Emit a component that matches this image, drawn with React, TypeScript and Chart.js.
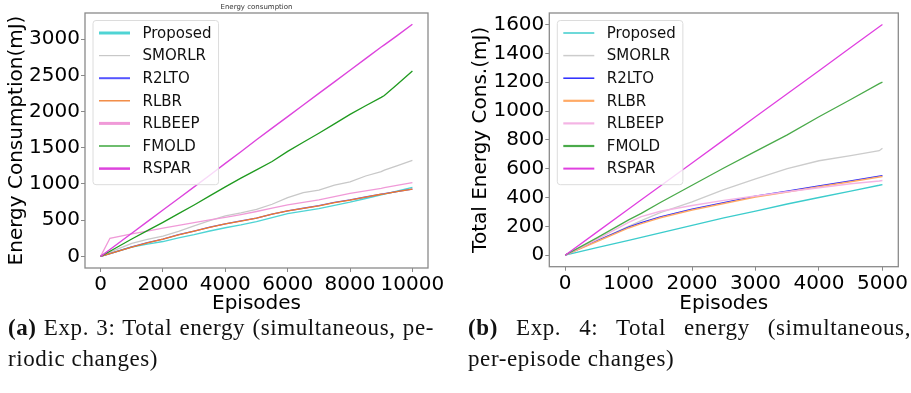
import React, { useEffect, useRef } from "react";
import { Chart, registerables } from "chart.js";

Chart.register(...registerables);

// ---- Series names shared by both panels ----
const seriesNames = ["Proposed", "SMORLR", "R2LTO", "RLBR", "RLBEEP", "FMOLD", "RSPAR"];

// ---- Panel (a): Exp. 3, periodic changes ----
const episodesA = [0, 300, 1000, 1500, 2000, 2500, 3000, 3500, 4000, 4500, 5000, 5500, 6000, 6500, 7000, 7500, 8000, 8500, 9000, 9100, 9500, 10000];
const proposedA = [0, 40, 130, 170, 205, 255, 300, 350, 395, 435, 480, 535, 590, 625, 660, 705, 750, 800, 850, 860, 900, 953];
const smorlrA = [0, 60, 180, 235, 280, 345, 420, 495, 560, 600, 650, 720, 810, 880, 915, 985, 1030, 1110, 1170, 1190, 1250, 1325];
const r2ltoA = [0, 40, 130, 190, 240, 300, 350, 405, 450, 490, 530, 585, 630, 665, 700, 745, 780, 820, 860, 866, 895, 930];
const rlbrA = [0, 38, 128, 188, 238, 298, 348, 402, 448, 488, 528, 583, 628, 663, 698, 742, 778, 818, 858, 864, 893, 928];
const rlbeepA = [0, 250, 310, 350, 390, 428, 465, 505, 540, 578, 620, 665, 710, 745, 780, 825, 870, 905, 940, 948, 980, 1020];
const fmoldA = [0, 72, 240, 355, 470, 590, 710, 835, 960, 1080, 1195, 1310, 1450, 1575, 1700, 1830, 1960, 2080, 2195, 2220, 2370, 2560];
const rsparA = [0, 96, 320, 480, 640, 800, 960, 1120, 1285, 1445, 1610, 1770, 1930, 2090, 2250, 2410, 2570, 2730, 2890, 2920, 3045, 3205];
const xTicksA = [0, 2000, 4000, 6000, 8000, 10000];
const yTicksA = [0, 500, 1000, 1500, 2000, 2500, 3000];

// ---- Panel (b): Exp. 4, per-episode changes ----
const episodesB = [0, 500, 1000, 1200, 1500, 2000, 2500, 3000, 3500, 4000, 4500, 4950, 5000];
const proposedB = [0, 52, 103, 124, 155, 207, 258, 305, 355, 400, 445, 485, 490];
const smorlrB = [0, 100, 200, 240, 295, 370, 455, 530, 600, 655, 690, 725, 742];
const r2ltoB = [0, 100, 195, 225, 265, 320, 365, 410, 445, 480, 515, 548, 552];
const rlbrB = [0, 95, 189, 219, 259, 314, 359, 404, 439, 474, 509, 542, 546];
const rlbeepB = [0, 110, 228, 268, 305, 345, 380, 410, 440, 468, 495, 515, 518];
const fmoldB = [0, 120, 245, 290, 365, 485, 605, 720, 835, 960, 1080, 1190, 1200];
const rsparB = [0, 160, 320, 385, 480, 640, 800, 960, 1120, 1280, 1440, 1585, 1600];
const xTicksB = [0, 1000, 2000, 3000, 4000, 5000];
const yTicksB = [0, 200, 400, 600, 800, 1000, 1200, 1400, 1600];

const FONT = '"DejaVu Sans", sans-serif';

type PanelSpec = {
  x: number[];
  series: number[][];
  colors: string[];
  widths: number[];
  legendWidths: number[];
  xMin: number;
  xMax: number;
  yMin: number;
  yMax: number;
  xTicks: number[];
  yTicks: number[];
  yTitle: string;
  yTitlePad: number;
  topTitle?: string;
  padTop: number;
  padRight: number;
  yAxisW: number;
  xAxisH: number;
};

// Frame around the plot area plus an in-plot legend box
const framePlugin = {
  id: "frameAndLegend",
  afterDatasetsDraw(chart: any, _args: any, opts: any) {
    const ctx = chart.ctx as CanvasRenderingContext2D;
    const ca = chart.chartArea;
    ctx.save();
    ctx.strokeStyle = "#8a8a8a";
    ctx.lineWidth = 1.3;
    ctx.strokeRect(ca.left, ca.top, ca.right - ca.left, ca.bottom - ca.top);

    // legend
    const ds = chart.data.datasets;
    const rowH = 22.6;
    const bx = ca.left + 8;
    const by = ca.top + 7.5;
    ctx.font = `15px ${FONT}`;
    let maxW = 0;
    ds.forEach((d: any) => (maxW = Math.max(maxW, ctx.measureText(d.label).width)));
    const bw = 49.5 + maxW + 7;
    const bh = ds.length * rowH + 6;
    ctx.beginPath();
    const r = 3;
    ctx.moveTo(bx + r, by);
    ctx.arcTo(bx + bw, by, bx + bw, by + bh, r);
    ctx.arcTo(bx + bw, by + bh, bx, by + bh, r);
    ctx.arcTo(bx, by + bh, bx, by, r);
    ctx.arcTo(bx, by, bx + bw, by, r);
    ctx.closePath();
    ctx.fillStyle = "rgba(255,255,255,0.8)";
    ctx.fill();
    ctx.strokeStyle = "#dcdcdc";
    ctx.lineWidth = 1;
    ctx.stroke();
    ds.forEach((d: any, i: number) => {
      const cy = by + 12.5 + i * rowH;
      ctx.beginPath();
      ctx.strokeStyle = d.borderColor;
      ctx.lineWidth = opts.legendWidths[i];
      ctx.moveTo(bx + 6, cy);
      ctx.lineTo(bx + 37, cy);
      ctx.stroke();
      ctx.fillStyle = "#111";
      ctx.textBaseline = "middle";
      ctx.textAlign = "left";
      ctx.fillText(d.label, bx + 49.5, cy + 1);
    });

    if (opts.topTitle) {
      ctx.font = `7px ${FONT}`;
      ctx.fillStyle = "#333";
      ctx.textAlign = "center";
      ctx.textBaseline = "middle";
      ctx.fillText(opts.topTitle, (ca.left + ca.right) / 2, 7);
    }
    ctx.restore();
  },
};

function buildConfig(p: PanelSpec): any {
  const tickFont = { family: FONT, size: 20 };
  const gridOpts = {
    drawOnChartArea: false,
    drawTicks: true,
    tickLength: 4,
    color: "#8a8a8a",
    lineWidth: 1,
  };
  return {
    type: "line",
    data: {
      datasets: seriesNames.map((name, i) => ({
        label: name,
        data: p.x.map((x, j) => ({ x, y: p.series[i][j] })),
        borderColor: p.colors[i],
        backgroundColor: p.colors[i],
        borderWidth: p.widths[i],
        pointRadius: 0,
        tension: 0,
        fill: false,
        order: -i,
      })),
    },
    options: {
      animation: false,
      responsive: false,
      maintainAspectRatio: false,
      layout: { padding: { top: p.padTop, right: p.padRight, left: 0, bottom: 0 } },
      plugins: {
        legend: { display: false },
        title: { display: false },
        tooltip: { enabled: false },
        frameAndLegend: { legendWidths: p.legendWidths, topTitle: p.topTitle },
      },
      scales: {
        x: {
          type: "linear",
          min: p.xMin,
          max: p.xMax,
          afterBuildTicks: (s: any) => {
            s.ticks = p.xTicks.map((v) => ({ value: v }));
          },
          afterFit: (s: any) => {
            s.height = p.xAxisH;
          },
          grid: gridOpts,
          border: { display: false },
          ticks: {
            font: tickFont,
            color: "#000",
            padding: 1,
            maxRotation: 0,
            autoSkip: false,
            callback: (v: any) => String(v),
          },
          title: {
            display: true,
            text: "Episodes",
            font: { family: FONT, size: 20 },
            color: "#000",
            padding: { top: 0, bottom: 4 },
          },
        },
        y: {
          type: "linear",
          min: p.yMin,
          max: p.yMax,
          afterBuildTicks: (s: any) => {
            s.ticks = p.yTicks.map((v) => ({ value: v }));
          },
          afterFit: (s: any) => {
            s.width = p.yAxisW;
          },
          grid: gridOpts,
          border: { display: false },
          ticks: {
            font: tickFont,
            color: "#000",
            padding: 1,
            autoSkip: false,
            callback: (v: any) => String(v),
          },
          title: {
            display: true,
            text: p.yTitle,
            font: { family: FONT, size: 20 },
            color: "#000",
            padding: { top: p.yTitlePad, bottom: 0 },
          },
        },
      },
    },
    plugins: [framePlugin],
  };
}

const panelA: PanelSpec = {
  x: episodesA,
  series: [proposedA, smorlrA, r2ltoA, rlbrA, rlbeepA, fmoldA, rsparA],
  colors: ["#4fd4d4", "#c8c8c8", "#5555ff", "#f07a2a", "#f09ad8", "#1f9a1f", "#dd44dd"],
  widths: [1.4, 1.3, 1.3, 1.3, 1.3, 1.3, 1.4],
  legendWidths: [3, 1.2, 2, 1.3, 3, 1.3, 2.5],
  xMin: -500,
  xMax: 10500,
  yMin: -160,
  yMax: 3360,
  xTicks: xTicksA,
  yTicks: yTicksA,
  yTitle: "Energy Consumption(mJ)",
  yTitlePad: 5,
  topTitle: "Energy consumption",
  padTop: 13,
  padRight: 27,
  yAxisW: 85,
  xAxisH: 52,
};

const panelB: PanelSpec = {
  x: episodesB,
  series: [proposedB, smorlrB, r2ltoB, rlbrB, rlbeepB, fmoldB, rsparB],
  colors: ["#3ccccc", "#cccccc", "#2a2aff", "#ffaa66", "#f4b4e4", "#4aaa4a", "#e040e0"],
  widths: [1.3, 1.3, 1.3, 1.5, 1.4, 1.3, 1.3],
  legendWidths: [1.5, 1.5, 1.5, 2.2, 2.2, 2.2, 2],
  xMin: -250,
  xMax: 5250,
  yMin: -80,
  yMax: 1680,
  xTicks: xTicksB,
  yTicks: yTicksB,
  yTitle: "Total Energy Cons.(mJ)",
  yTitlePad: 14,
  padTop: 7.3,
  padRight: 12.7,
  yAxisW: 94.3,
  xAxisH: 53.3,
};

function ChartPanel({ spec, left, width }: { spec: PanelSpec; left: number; width: number }) {
  const ref = useRef<HTMLCanvasElement | null>(null);
  useEffect(() => {
    if (!ref.current) return;
    const chart = new Chart(ref.current, buildConfig(spec));
    return () => chart.destroy();
  }, [spec]);
  return (
    <canvas
      ref={ref}
      width={width}
      height={320}
      style={{ position: "absolute", left, top: 0, width, height: 320 }}
    />
  );
}

const captionFont = '23px "Liberation Serif", "Times New Roman", serif';
const captionBase = {
  position: "absolute" as const,
  top: 312,
  font: captionFont,
  lineHeight: "31px",
  letterSpacing: "0.6px",
  color: "#111",
};

export default function App() {
  return (
    <div style={{ position: "absolute", left: 0, top: 0, width: 911, height: 393, background: "#fff", overflow: "hidden" }}>
      <ChartPanel spec={panelA} left={0} width={455} />
      <ChartPanel spec={panelB} left={455} width={456} />
      <div style={{ ...captionBase, left: 8, width: 426 }}>
        <div style={{ textAlign: "justify", textAlignLast: "justify" }}>
          <b>(a)</b> Exp. 3: Total energy (simultaneous, pe-
        </div>
        <div>riodic changes)</div>
      </div>
      <div style={{ ...captionBase, left: 468, width: 443 }}>
        <div style={{ textAlign: "justify", textAlignLast: "justify" }}>
          <b>(b)</b> Exp. 4: Total energy (simultaneous,
        </div>
        <div>per-episode changes)</div>
      </div>
    </div>
  );
}
